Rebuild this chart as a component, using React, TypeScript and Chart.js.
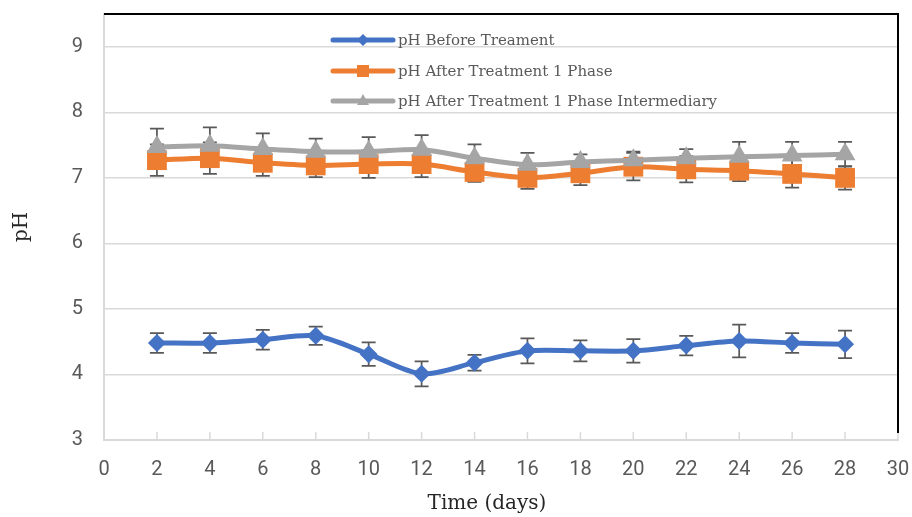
import React, { useEffect, useRef } from 'react';
import { Chart, registerables } from 'chart.js';

Chart.register(...registerables);

const days = [2, 4, 6, 8, 10, 12, 14, 16, 18, 20, 22, 24, 26, 28];
const xTicks = [0, 2, 4, 6, 8, 10, 12, 14, 16, 18, 20, 22, 24, 26, 28, 30];
const yTicks = [3, 4, 5, 6, 7, 8, 9];

const seriesNames = [
  'pH Before Treament',
  'pH After Treatment 1 Phase',
  'pH After Treatment 1 Phase Intermediary',
];
const xTitle = 'Time (days)';
const yTitle = 'pH';

const phBefore = [4.48, 4.48, 4.53, 4.59, 4.31, 4.01, 4.18, 4.36, 4.36, 4.36, 4.44, 4.51, 4.48, 4.46];
const phBeforeErr = [0.15, 0.15, 0.15, 0.14, 0.18, 0.19, 0.12, 0.19, 0.16, 0.18, 0.15, 0.25, 0.15, 0.21];

const phAfter1 = [7.27, 7.3, 7.23, 7.19, 7.21, 7.21, 7.09, 7.0, 7.07, 7.17, 7.13, 7.11, 7.06, 7.0];
const phAfter1Err = [0.24, 0.24, 0.2, 0.18, 0.21, 0.2, 0.15, 0.17, 0.18, 0.21, 0.2, 0.16, 0.21, 0.18];

const phInter = [7.47, 7.49, 7.44, 7.4, 7.4, 7.43, 7.3, 7.2, 7.24, 7.27, 7.3, 7.32, 7.34, 7.36];
const phInterErr = [0.28, 0.28, 0.24, 0.2, 0.22, 0.22, 0.21, 0.18, 0.12, 0.13, 0.14, 0.23, 0.21, 0.19];

const COLORS = ['#4472C4', '#ED7D31', '#A5A5A5'];
const SERIF = '"DejaVu Serif", "Liberation Serif", serif';
const SANS = 'Roboto, "Noto Sans", sans-serif';

export default function App() {
  const ref = useRef<HTMLCanvasElement>(null);

  useEffect(() => {
    const canvas = ref.current;
    if (!canvas) return;
    const toPts = (ys: number[]) => days.map((d, i) => ({ x: d, y: ys[i] }));
    const errs = [phBeforeErr, phAfter1Err, phInterErr];
    const vals = [phBefore, phAfter1, phInter];
    const styles = ['rectRot', 'rect', 'triangle'];

    const errorBars = {
      id: 'errorBars',
      beforeDatasetsDraw(chart: any) {
        const { ctx, scales } = chart;
        const xs = scales.x;
        const ys = scales.y;
        ctx.save();
        ctx.strokeStyle = '#595959';
        ctx.lineWidth = 1.75;
        for (let s = 0; s < 3; s++) {
          days.forEach((d, i) => {
            const px = xs.getPixelForValue(d);
            const top = ys.getPixelForValue(vals[s][i] + errs[s][i]);
            const bot = ys.getPixelForValue(vals[s][i] - errs[s][i]);
            ctx.beginPath();
            ctx.moveTo(px, top);
            ctx.lineTo(px, bot);
            ctx.moveTo(px - 7, top);
            ctx.lineTo(px + 7, top);
            ctx.moveTo(px - 7, bot);
            ctx.lineTo(px + 7, bot);
            ctx.stroke();
          });
        }
        ctx.restore();
      },
    };

    const frame = {
      id: 'frame',
      beforeDatasetsDraw(chart: any) {
        const { ctx, scales, chartArea } = chart;
        const xs = scales.x;
        ctx.save();
        ctx.strokeStyle = '#D9D9D9';
        ctx.lineWidth = 1.5;
        xTicks.forEach((t) => {
          const px = xs.getPixelForValue(t);
          ctx.beginPath();
          ctx.moveTo(px, chartArea.bottom);
          ctx.lineTo(px, chartArea.bottom - 8);
          ctx.stroke();
        });
        ctx.restore();
      },
      afterDraw(chart: any) {
        const { ctx, chartArea } = chart;
        ctx.save();
        // black frame on top and right
        ctx.strokeStyle = '#000';
        ctx.lineWidth = 2;
        ctx.beginPath();
        ctx.moveTo(chartArea.left, chartArea.top);
        ctx.lineTo(chartArea.right, chartArea.top);
        ctx.lineTo(chartArea.right, chartArea.bottom - 7);
        ctx.stroke();

        // x-axis title (slightly left of centre, as in the original)
        ctx.fillStyle = '#262626';
        ctx.font = '20px ' + SERIF;
        ctx.textAlign = 'center';
        ctx.textBaseline = 'middle';
        ctx.fillText(xTitle, 487, 504);

        // legend
        const lx0 = 333;
        const lx1 = 393;
        const rowsY = [40, 71, 101];
        for (let s = 0; s < 3; s++) {
          const y = rowsY[s];
          ctx.strokeStyle = COLORS[s];
          ctx.lineWidth = 5;
          ctx.lineCap = 'round';
          ctx.beginPath();
          ctx.moveTo(lx0, y);
          ctx.lineTo(lx1, y);
          ctx.stroke();
          ctx.fillStyle = COLORS[s];
          const cx = (lx0 + lx1) / 2;
          ctx.beginPath();
          if (s === 0) {
            ctx.moveTo(cx, y - 6);
            ctx.lineTo(cx + 6, y);
            ctx.lineTo(cx, y + 6);
            ctx.lineTo(cx - 6, y);
          } else if (s === 1) {
            ctx.rect(cx - 6, y - 6, 12, 12);
          } else {
            ctx.moveTo(cx, y - 7);
            ctx.lineTo(cx + 6, y + 4);
            ctx.lineTo(cx - 6, y + 4);
          }
          ctx.closePath();
          ctx.fill();
          ctx.fillStyle = '#595959';
          ctx.font = '15px ' + SERIF;
          ctx.textBaseline = 'middle';
          ctx.textAlign = 'left';
          ctx.fillText(seriesNames[s], 398, y + 1);
        }
        ctx.restore();
      },
    };

    const chart = new Chart(canvas, {
      type: 'line',
      data: {
        datasets: [0, 1, 2].map((s) => ({
          label: seriesNames[s],
          data: toPts(vals[s]),
          borderColor: COLORS[s],
          backgroundColor: COLORS[s],
          borderWidth: 5,
          pointStyle: styles[s] as any,
          pointRadius: s === 0 ? 9 : s === 1 ? 14 : 12,
          pointBorderWidth: 0,
          pointBackgroundColor: COLORS[s],
          tension: 0.3,
          order: 2 - s,
        })),
      },
      plugins: [errorBars, frame],
      options: {
        animation: false,
        responsive: true,
        maintainAspectRatio: false,
        layout: { padding: { left: 0, right: 13, top: 13, bottom: 0 } },
        plugins: {
          legend: { display: false },
          tooltip: { enabled: false },
        },
        scales: {
          x: {
            type: 'linear',
            min: 0,
            max: 30,
            afterBuildTicks: (scale: any) => {
              scale.ticks = xTicks.map((v) => ({ value: v }));
            },
            afterFit: (scale: any) => {
              scale.height = 77;
              scale.paddingLeft = 0;
              scale.paddingRight = 0;
            },
            grid: { display: true, drawOnChartArea: false, drawTicks: false },
            border: { display: true, color: '#D9D9D9', width: 2 },
            ticks: {
              padding: 18,
              color: '#595959',
              font: { family: SANS, size: 20 },
              maxRotation: 0,
              autoSkip: false,
            },
            title: { display: false },
          },
          y: {
            type: 'linear',
            min: 3,
            max: 9.5,
            afterBuildTicks: (scale: any) => {
              scale.ticks = yTicks.map((v) => ({ value: v }));
            },
            afterFit: (scale: any) => {
              scale.width = 104;
              scale.paddingTop = 0;
              scale.paddingBottom = 0;
            },
            grid: { color: '#D9D9D9', lineWidth: 1.5, drawTicks: false },
            border: { display: true, color: '#D9D9D9', width: 2 },
            ticks: {
              padding: 21,
              color: '#595959',
              font: { family: SANS, size: 20 },
            },
            title: {
              display: true,
              text: yTitle,
              color: '#262626',
              font: { family: SERIF, size: 20 },
              padding: { top: 10, bottom: 0 },
            },
          },
        },
      },
    });
    return () => chart.destroy();
  }, []);

  return (
    <div style={{ position: 'absolute', left: 0, top: 0, width: 912, height: 517 }}>
      <canvas ref={ref} />
    </div>
  );
}
